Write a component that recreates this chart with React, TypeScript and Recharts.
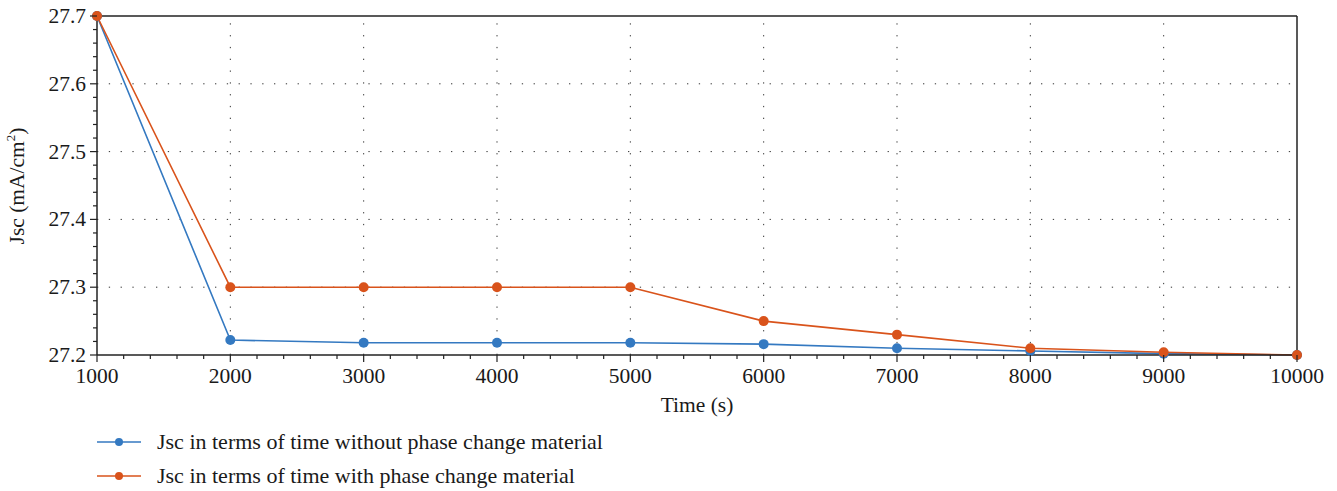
import React from "react";
import { LineChart, Line, XAxis, YAxis, ReferenceLine } from "recharts";

const times = [1000, 2000, 3000, 4000, 5000, 6000, 7000, 8000, 9000, 10000];
const withoutPcm = [27.7, 27.222, 27.218, 27.218, 27.218, 27.216, 27.21, 27.206, 27.202, 27.2];
const withPcm = [27.7, 27.3, 27.3, 27.3, 27.3, 27.25, 27.23, 27.21, 27.204, 27.2];

const xMajor = [1000, 2000, 3000, 4000, 5000, 6000, 7000, 8000, 9000, 10000];
const xMinor = [1200, 1400, 1600, 1800, 2200, 2400, 2600, 2800, 3200, 3400, 3600, 3800, 4200, 4400, 4600, 4800, 5200, 5400, 5600, 5800, 6200, 6400, 6600, 6800, 7200, 7400, 7600, 7800, 8200, 8400, 8600, 8800, 9200, 9400, 9600, 9800];
const yMajor = [27.2, 27.3, 27.4, 27.5, 27.6, 27.7];
const yMinor = [27.22, 27.24, 27.26, 27.28, 27.32, 27.34, 27.36, 27.38, 27.42, 27.44, 27.46, 27.48, 27.52, 27.54, 27.56, 27.58, 27.62, 27.64, 27.66, 27.68];

const seriesNames = [
  "Jsc in terms of time without phase change material",
  "Jsc in terms of time with phase change material",
];
const BLUE = "#3479c1";
const ORANGE = "#d9531b";
const FONT = "'Liberation Serif', 'DejaVu Serif', serif";
const TEXT = "#1a1a1a";
const FS = 21.5;

const data = times.map((t, i) => ({ t, a: withoutPcm[i], b: withPcm[i] }));

const isMajorX = (v: number) => xMajor.includes(v);
const isMajorY = (v: number) => yMajor.some((m) => Math.abs(m - v) < 1e-6);

function XTick(props: any) {
  const { x, y, payload } = props;
  const major = isMajorX(payload.value);
  return (
    <g>
      <line x1={x} y1={y} x2={x} y2={y + (major ? 7 : 4)} stroke="#222" strokeWidth={1.2} />
      {major && (
        <text x={x} y={y + 28} textAnchor="middle" fontFamily={FONT} fontSize={FS} fill={TEXT}>
          {payload.value}
        </text>
      )}
    </g>
  );
}

function YTick(props: any) {
  const { x, y, payload } = props;
  const major = isMajorY(payload.value);
  return (
    <g>
      <line x1={x} y1={y} x2={x - (major ? 7 : 4)} y2={y} stroke="#222" strokeWidth={1.2} />
      {major && (
        <text x={x - 11} y={y + 7} textAnchor="end" fontFamily={FONT} fontSize={FS} fill={TEXT}>
          {payload.value.toFixed(1)}
        </text>
      )}
    </g>
  );
}

function YLabel() {
  return (
    <text transform="translate(24,186) rotate(-90)" textAnchor="middle" fontFamily={FONT} fontSize={FS} fill={TEXT}>
      Jsc (mA/cm<tspan fontSize={13} dy={-9}>2</tspan><tspan dy={9}>)</tspan>
    </text>
  );
}

function LegendIcon({ color }: { color: string }) {
  return (
    <svg width={46} height={12} style={{ display: "block" }}>
      <line x1={0} y1={6} x2={44} y2={6} stroke={color} strokeWidth={1.5} />
      <circle cx={22} cy={6} r={4} fill={color} />
    </svg>
  );
}

export default function App() {
  const colors = [BLUE, ORANGE];
  return (
    <div style={{ position: "absolute", left: 0, top: 0, width: 1337, height: 491, background: "#fff" }}>
      <LineChart width={1337} height={491} data={data} margin={{ top: 16, right: 40, bottom: 76, left: 0 }}>
        <XAxis
          dataKey="t"
          type="number"
          domain={[1000, 10000]}
          ticks={[...xMajor, ...xMinor].sort((p, q) => p - q)}
          interval={0}
          tickSize={0}
          tickMargin={0}
          tickLine={false}
          tick={<XTick />}
          axisLine={{ stroke: "#222", strokeWidth: 1.5 }}
          height={60}
          label={{ value: "Time (s)", position: "insideBottom", offset: 3, fontFamily: FONT, fontSize: FS, fill: TEXT }}
        />
        <YAxis
          type="number"
          domain={[27.2, 27.7]}
          ticks={[...yMajor, ...yMinor].sort((p, q) => p - q)}
          interval={0}
          tickSize={0}
          tickMargin={0}
          tickLine={false}
          tick={<YTick />}
          axisLine={{ stroke: "#222", strokeWidth: 1.5 }}
          width={97}
          label={<YLabel />}
        />
        {yMajor.slice(1, -1).map((v) => (
          <ReferenceLine key={"h" + v} y={v} stroke="#333" strokeDasharray="1.3 10.5" />
        ))}
        {xMajor.slice(1, -1).map((v) => (
          <ReferenceLine key={"v" + v} x={v} stroke="#333" strokeDasharray="1.3 10.5" />
        ))}
        <ReferenceLine y={27.7} stroke="#222" strokeWidth={1.5} />
        <ReferenceLine x={10000} stroke="#222" strokeWidth={1.5} />
        <Line
          dataKey="a"
          name={seriesNames[0]}
          stroke={BLUE}
          strokeWidth={1.6}
          dot={{ r: 5, fill: BLUE, stroke: BLUE, strokeWidth: 0 }}
          isAnimationActive={false}
        />
        <Line
          dataKey="b"
          name={seriesNames[1]}
          stroke={ORANGE}
          strokeWidth={1.6}
          dot={{ r: 5, fill: ORANGE, stroke: ORANGE, strokeWidth: 0 }}
          isAnimationActive={false}
        />
      </LineChart>
      <div style={{ position: "absolute", left: 97, top: 425, fontFamily: FONT, fontSize: 22, color: TEXT }}>
        {seriesNames.map((n, i) => (
          <div key={n} style={{ display: "flex", alignItems: "center", height: 34 }}>
            <LegendIcon color={colors[i]} />
            <span style={{ marginLeft: 14 }}>{n}</span>
          </div>
        ))}
      </div>
    </div>
  );
}
